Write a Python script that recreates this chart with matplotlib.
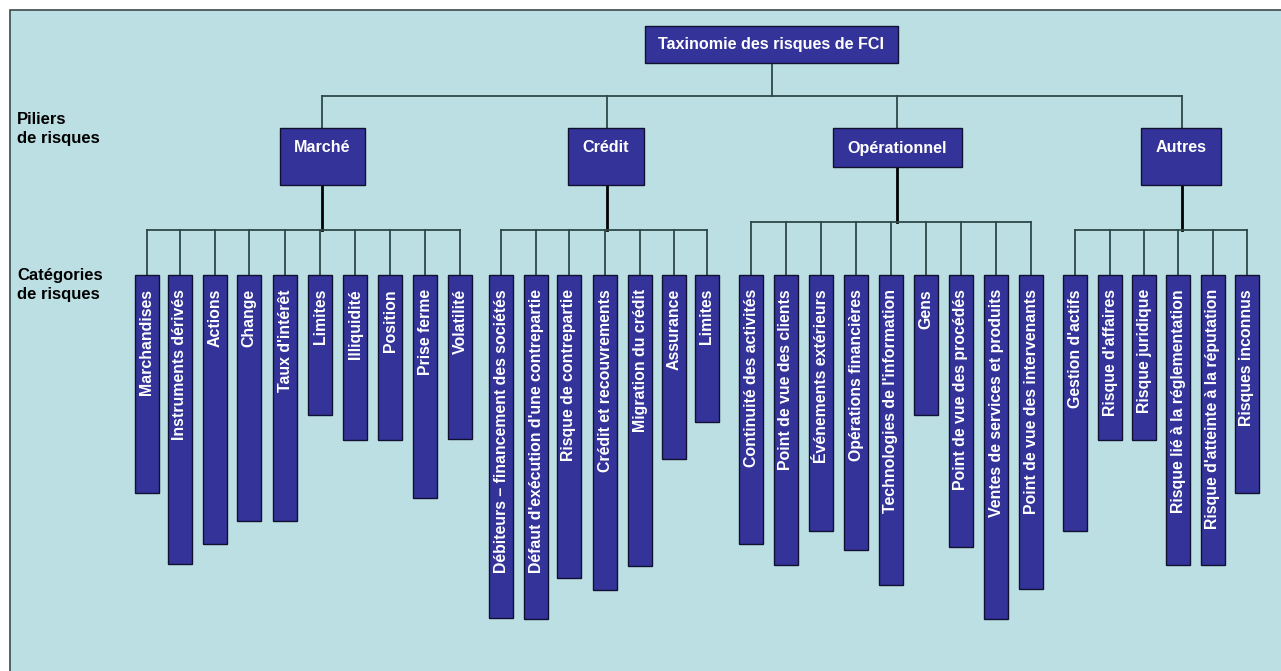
import matplotlib.pyplot as plt
from matplotlib.patches import Rectangle

# labels
root_label = "Taxinomie des risques de FCI"
pillars = ["Marché", "Crédit", "Opérationnel", "Autres"]
marche = ["Marchandises", "Instruments dérivés", "Actions", "Change",
          "Taux d'intérêt", "Limites", "Illiquidité", "Position",
          "Prise ferme", "Volatilité"]
credit = ["Débiteurs – financement des sociétés",
          "Défaut d'exécution d'une contrepartie", "Risque de contrepartie",
          "Crédit et recouvrements", "Migration du crédit", "Assurance",
          "Limites"]
operationnel = ["Continuité des activités", "Point de vue des clients",
                "Événements extérieurs", "Opérations financières",
                "Technologies de l'information", "Gens",
                "Point de vue des procédés", "Ventes de services et produits",
                "Point de vue des intervenants"]
autres = ["Gestion d'actifs", "Risque d'affaires", "Risque juridique",
          "Risque lié à la réglementation",
          "Risque d'atteinte à la réputation", "Risques inconnus"]
categories = [marche, credit, operationnel, autres]

# layout (pixels, y down)
pillar_boxes = [(280, 365, 185), (568, 644, 185), (833, 962, 167), (1141, 1221, 185)]
pillar_x = [322, 607, 897, 1182]
child_line_y = [230, 230, 222, 230]
child_x = [
    [147, 180, 215, 249, 285, 320, 355, 390, 425, 460],
    [501, 536, 569, 605, 640, 674, 707],
    [751, 786, 821, 856, 891, 926, 961, 996, 1031],
    [1075, 1110, 1144, 1178, 1213, 1247],
]
child_bottom = [
    [493, 564, 544, 521, 521, 415, 440, 440, 498, 439],
    [618, 619, 578, 590, 566, 459, 422],
    [544, 565, 531, 550, 585, 415, 547, 619, 589],
    [531, 440, 440, 565, 565, 493],
]

W, H = 1281, 671
BG = '#bcdfe3'
BOX = '#333399'
LINE = '#2e4848'
FONT = ['Liberation Sans', 'DejaVu Sans']

fig = plt.figure(figsize=(W / 100, H / 100), dpi=100)
ax = fig.add_axes([0, 0, 1, 1])
ax.set_xlim(0, W)
ax.set_ylim(H, 0)
ax.axis('off')

ax.add_patch(Rectangle((10, 10), W + 10, H + 10, facecolor=BG,
                       edgecolor='#3a4a4a', lw=1.2))


def box(x0, x1, y0, y1, text, ty, size=11.6):
    ax.add_patch(Rectangle((x0, y0), x1 - x0, y1 - y0, facecolor=BOX,
                           edgecolor='#101030', lw=1, zorder=3))
    ax.text((x0 + x1) / 2, ty, text, color='white', fontsize=size,
            fontweight='bold', ha='center', va='center', family=FONT,
            zorder=4)


# root
box(645, 898, 26, 63, root_label, 45)
ax.plot([772, 772], [63, 96], color=LINE, lw=1.3)
ax.plot([pillar_x[0], pillar_x[-1]], [96, 96], color=LINE, lw=1.3)

for i, name in enumerate(pillars):
    x0, x1, yb = pillar_boxes[i]
    px = pillar_x[i]
    ax.plot([px, px], [96, 128], color=LINE, lw=1.3)
    box(x0, x1, 128, yb, name, 148)
    ly = child_line_y[i]
    ax.plot([px, px], [yb, ly], color='black', lw=2)
    xs = child_x[i]
    ax.plot([xs[0], xs[-1]], [ly, ly], color=LINE, lw=1.3)
    for cx, bottom, label in zip(xs, child_bottom[i], categories[i]):
        ax.plot([cx, cx], [ly, 275], color=LINE, lw=1.3)
        ax.add_patch(Rectangle((cx - 12, 275), 24, bottom - 275,
                               facecolor=BOX, edgecolor='#101030', lw=1,
                               zorder=3))
        ax.text(cx, 289, label, color='white', fontsize=11.4,
                fontweight='bold', rotation=90, ha='center', va='top',
                family=FONT, zorder=4)

ax.text(17, 129, "Piliers\nde risques", fontsize=12, fontweight='bold',
        ha='left', va='center', family=FONT, linespacing=1.4)
ax.text(17, 285, "Catégories\nde risques", fontsize=12, fontweight='bold',
        ha='left', va='center', family=FONT, linespacing=1.35)

fig.savefig('out.png', dpi=100)
